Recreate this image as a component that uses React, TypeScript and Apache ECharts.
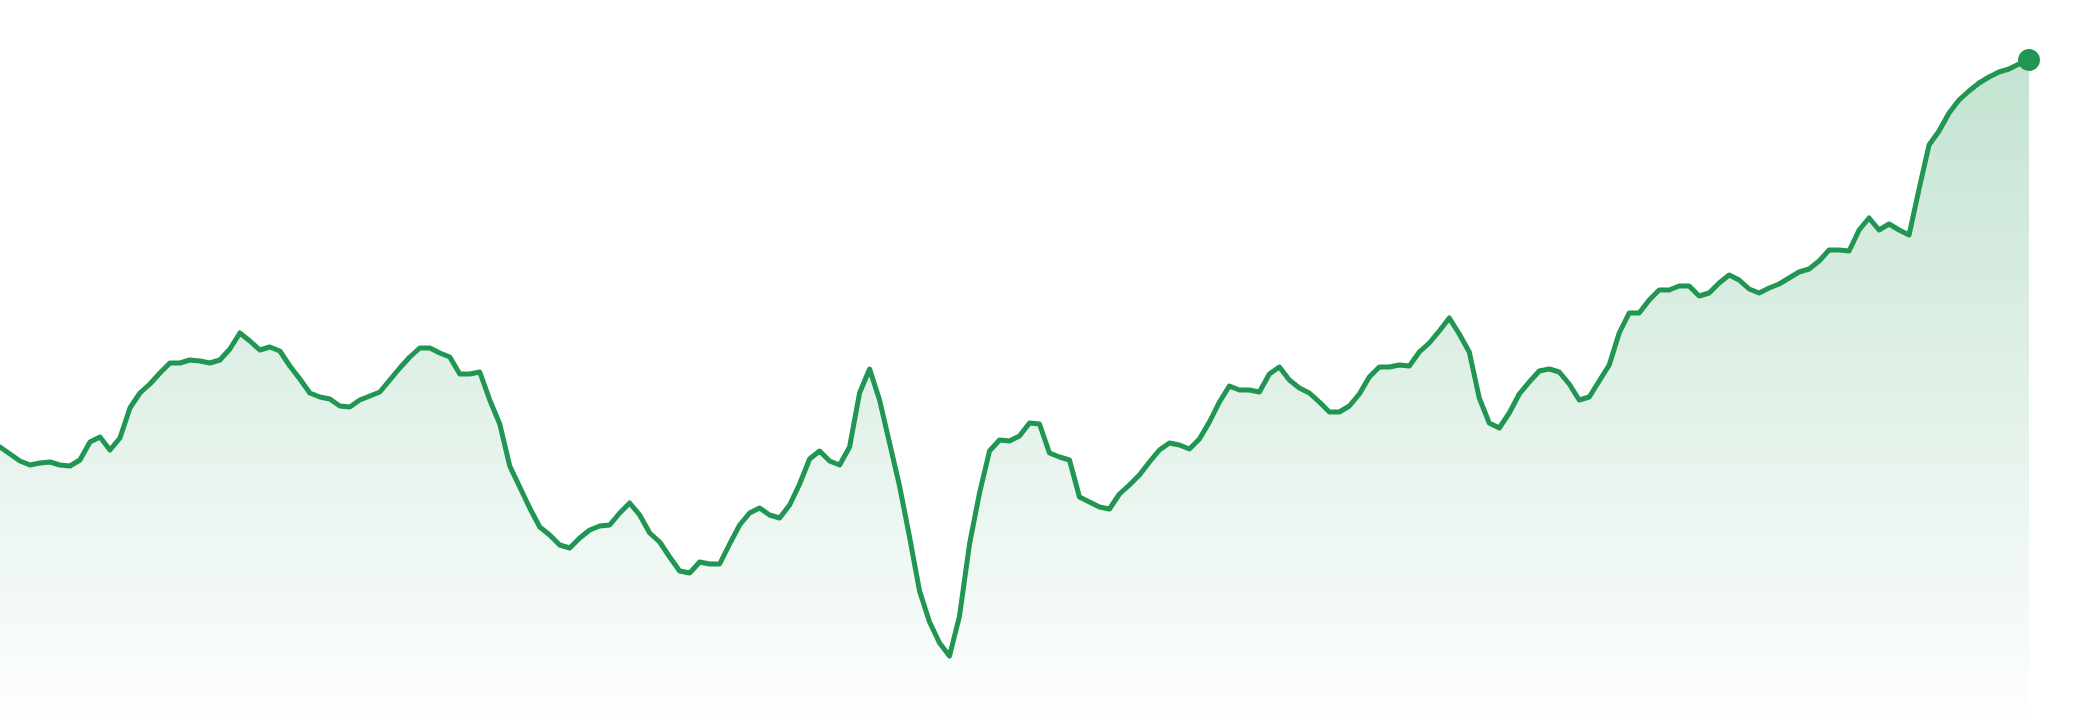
import React, { useEffect, useRef } from 'react';
import * as echarts from 'echarts';

// Daily series, one value per step (0 = bottom edge)
const prices: number[] = [
  273, 266, 259, 255, 257, 258, 255, 254, 260, 278,
  283, 270, 282, 312, 327, 336, 347, 357, 357, 360,
  359, 357, 360, 371, 387, 379, 370, 373, 369, 354,
  341, 327, 323, 321, 314, 313, 320, 324, 328, 340,
  352, 363, 372, 372, 367, 363, 346, 346, 348, 320,
  296, 254, 233, 212, 193, 185, 175, 172, 182, 190,
  194, 195, 207, 217, 205, 187, 178, 163, 149, 147,
  158, 156, 156, 176, 195, 207, 212, 205, 202, 215,
  236, 261, 269, 259, 255, 273, 327, 351, 320, 277,
  234, 183, 129, 98, 77, 64, 104, 176, 227, 269,
  280, 279, 284, 297, 296, 267, 263, 260, 223, 218,
  213, 211, 226, 235, 245, 258, 270, 277, 275, 271,
  281, 298, 318, 334, 330, 330, 328, 346, 353, 340,
  332, 327, 318, 308, 308, 314, 326, 343, 353, 353,
  355, 354, 368, 377, 389, 402, 386, 368, 322, 297,
  292, 307, 326, 338, 349, 351, 348, 336, 320, 323,
  339, 355, 387, 407, 407, 420, 430, 430, 434, 434,
  424, 427, 437, 445, 440, 431, 427, 432, 436, 442,
  448, 451, 459, 470, 470, 469, 490, 502, 490, 496,
  490, 485, 531, 575, 589, 607, 620, 629, 637, 643,
  648, 651, 656, 660
];

const days = prices.map((_, i) => `D${i + 1}`);

const yMin = 0;
const yMax = 720;

const GREEN = '#219653';

export default function App() {
  const chartRef = useRef<HTMLDivElement>(null);

  useEffect(() => {
    if (!chartRef.current) return;
    document.body.style.margin = '0';

    const chart = echarts.init(chartRef.current, undefined, { renderer: 'svg' });

    // only the last point gets a marker
    const seriesData = prices.map((v, i) =>
      i === prices.length - 1 ? { value: v, symbol: 'circle', symbolSize: 22 } : v
    );

    const option: echarts.EChartsOption = {
      animation: false,
      grid: {
        left: 0,
        right: 51,
        top: 0,
        bottom: 0
      },
      xAxis: {
        type: 'category',
        data: days,
        boundaryGap: false,
        show: false
      },
      yAxis: {
        type: 'value',
        min: yMin,
        max: yMax,
        show: false,
        splitLine: { show: false }
      },
      series: [
        {
          type: 'line',
          data: seriesData as any,
          symbol: 'none',
          showAllSymbol: true,
          smooth: false,
          lineStyle: {
            color: GREEN,
            width: 5,
            join: 'round',
            cap: 'round'
          },
          itemStyle: {
            color: GREEN
          },
          areaStyle: {
            color: new echarts.graphic.LinearGradient(0, 0, 0, 1, [
              { offset: 0, color: 'rgba(33, 150, 83, 0.38)' },
              { offset: 1, color: 'rgba(33, 150, 83, 0.01)' }
            ])
          }
        }
      ]
    };

    chart.setOption(option);

    const handleResize = () => chart.resize();
    window.addEventListener('resize', handleResize);

    return () => {
      window.removeEventListener('resize', handleResize);
      chart.dispose();
    };
  }, []);

  return <div ref={chartRef} style={{ width: '2080px', height: '720px' }} />;
}
